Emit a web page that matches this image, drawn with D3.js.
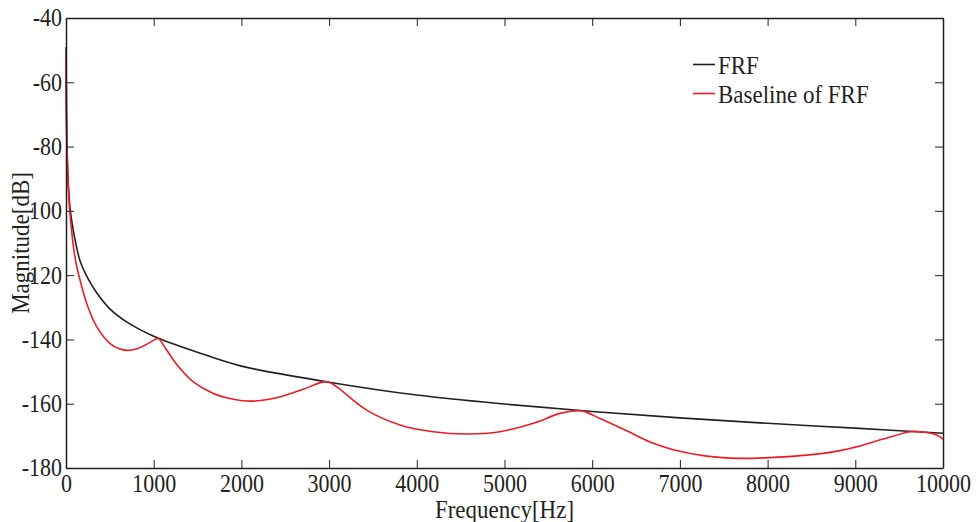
<!DOCTYPE html>
<html lang="en">
<head>
<meta charset="utf-8">
<title>FRF</title>
<script src="https://cdn.jsdelivr.net/npm/d3@7/dist/d3.min.js"></script>
<style>
  body { margin: 0; background: #fff; }
  svg text { font-family: "Liberation Serif", "Times New Roman", serif; fill: #231f20; }
  .tick text { transform-box: fill-box; transform-origin: center; transform: scaleY(1.12); }
</style>
</head>
<body>
<svg id="chart" width="977" height="522"></svg>
<script>
// FRF (black)
var frfFreq = [1, 5, 10, 20, 40, 70, 100, 160, 250, 350, 500, 700, 1000, 1500, 2000,
               3000, 4000, 5000, 6000, 7000, 8000, 9000, 10000];
var frfMag  = [-49, -70, -79, -88, -97.5, -104, -108.5, -115.5, -121, -125.5, -130.5, -134.7, -139, -144, -148.3,
               -153.3, -157.3, -160.1, -162.4, -164.4, -166.1, -167.6, -169.2];

// Baseline of FRF (red)
var baseFreq = [1, 5, 10, 20, 40, 60, 84, 120, 160, 236, 350, 500, 600, 700, 800, 900, 1000, 1050,
                1148, 1224, 1300, 1452, 1680, 1908, 2100, 2300, 2478, 2706, 2934, 3000, 3086, 3428,
                3808, 4188, 4569, 4949, 5329, 5633, 5842, 5900, 6089, 6393, 6659, 6925, 7305, 7685,
                8065, 8446, 8826, 9000, 9319, 9624, 9738, 9928, 10000];
var baseMag  = [-51.5, -68, -77, -88, -99, -105, -111, -117, -121.5, -128.8, -136, -141.2, -142.8, -143.4, -143, -141.8, -140.3, -139.7,
                -143.3, -146.4, -149, -153.2, -156.8, -158.6, -159.2, -158.7, -157.6, -155.5, -153.2, -153.3, -154.7, -162,
                -166.6, -168.7, -169.4, -168.7, -166.1, -163, -162.2, -162.3, -164.6, -168.4, -171.9, -174.3, -176.3, -177,
                -176.7, -176, -174.6, -173.5, -171, -168.7, -168.7, -169.7, -171];

var xTicks = [0, 1000, 2000, 3000, 4000, 5000, 6000, 7000, 8000, 9000, 10000];
var yTicks = [-40, -60, -80, -100, -120, -140, -160, -180];

var legendNames = ["FRF", "Baseline of FRF"];
var colors = ["#231f20", "#ed1c24"];

var svg = d3.select("#chart");
var plotLeft = 66, plotRight = 943, plotTop = 18, plotBottom = 468;

var x = d3.scaleLinear().domain([0, 10000]).range([plotLeft, plotRight]);
var y = d3.scaleLinear().domain([-180, -40]).range([plotBottom, plotTop]);

var frf = frfFreq.map(function (f, i) { return [f, frfMag[i]]; });
var base = baseFreq.map(function (f, i) { return [f, baseMag[i]]; });

var line = d3.line()
    .x(function (d) { return x(d[0]); })
    .y(function (d) { return y(d[1]); })
    .curve(d3.curveCatmullRom.alpha(0.5));

svg.append("path").datum(frf)
    .attr("d", line).attr("fill", "none")
    .attr("stroke", colors[0]).attr("stroke-width", 1.6);

svg.append("path").datum(base)
    .attr("d", line).attr("fill", "none")
    .attr("stroke", colors[1]).attr("stroke-width", 1.6);

// axes, ticks pointing inwards on all four sides
function plain(d) { return String(d); }

function styleAxis(g) {
    g.select(".domain").attr("stroke", "#231f20").attr("stroke-width", 1.5);
    g.selectAll(".tick line").attr("stroke", "#231f20").attr("stroke-width", 1);
    g.selectAll(".tick text").attr("fill", "#231f20")
        .style("font-size", "22px").style("font-family", "Liberation Serif, serif");
}

svg.append("g").attr("transform", "translate(0," + plotBottom + ")")
    .call(d3.axisBottom(x).tickValues(xTicks).tickFormat(plain)
        .tickSizeInner(-8).tickSizeOuter(0).tickPadding(7))
    .call(styleAxis);

svg.append("g").attr("transform", "translate(0," + plotTop + ")")
    .call(d3.axisTop(x).tickValues(xTicks).tickFormat("")
        .tickSizeInner(-8).tickSizeOuter(0))
    .call(styleAxis);

svg.append("g").attr("transform", "translate(" + plotLeft + ",0)")
    .call(d3.axisLeft(y).tickValues(yTicks).tickFormat(plain)
        .tickSizeInner(-8).tickSizeOuter(0).tickPadding(4))
    .call(styleAxis);

svg.append("g").attr("transform", "translate(" + plotRight + ",0)")
    .call(d3.axisRight(y).tickValues(yTicks).tickFormat("")
        .tickSizeInner(-8).tickSizeOuter(0))
    .call(styleAxis);

// axis titles
svg.append("rect").attr("x", 10).attr("y", 168).attr("width", 21).attr("height", 152).attr("fill", "#fff");
svg.append("text")
    .attr("transform", "translate(29," + ((plotTop + plotBottom) / 2) + ") rotate(-90) scale(1,1.12)")
    .attr("text-anchor", "middle")
    .style("font-size", "23px")
    .text("Magnitude[dB]");

svg.append("text")
    .attr("transform", "translate(" + ((plotLeft + plotRight) / 2) + ",518) scale(1,1.12)")
    .attr("text-anchor", "middle")
    .style("font-size", "23px")
    .text("Frequency[Hz]");

// legend
var legend = svg.append("g").selectAll("g").data(legendNames).enter().append("g")
    .attr("transform", function (d, i) { return "translate(693," + (64.5 + i * 29) + ")"; });

legend.append("line")
    .attr("x1", 0).attr("x2", 22).attr("y1", 0).attr("y2", 0)
    .attr("stroke", function (d, i) { return colors[i]; })
    .attr("stroke-width", 1.6);

legend.append("text")
    .attr("transform", "translate(25,9) scale(1,1.12)")
    .style("font-size", "23px")
    .text(function (d) { return d; });
</script>
</body>
</html>
